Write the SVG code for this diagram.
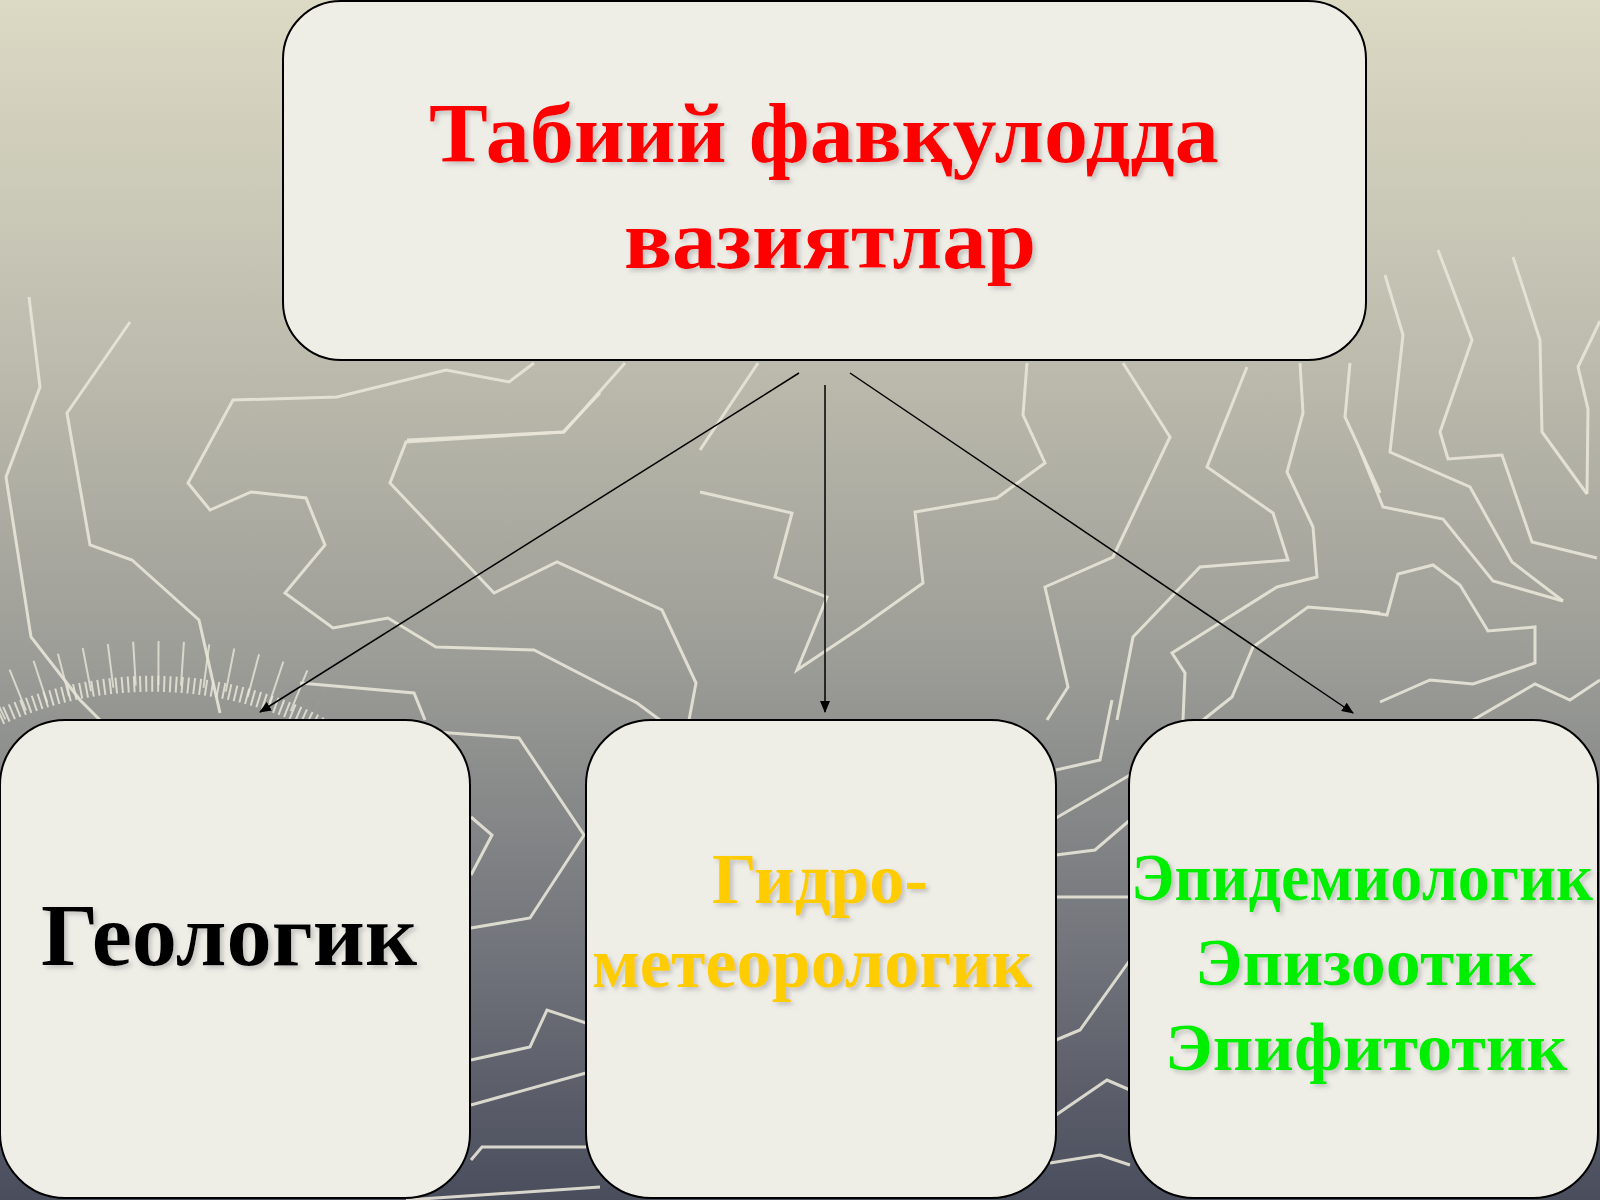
<svg xmlns="http://www.w3.org/2000/svg" width="1600" height="1200" viewBox="0 0 1600 1200">
<defs>
<linearGradient id="bg" x1="0" y1="0" x2="0" y2="1">
<stop offset="0" stop-color="#dcdac4"/>
<stop offset="0.3" stop-color="#bdbbad"/>
<stop offset="0.55" stop-color="#9c9d97"/>
<stop offset="0.8" stop-color="#70737a"/>
<stop offset="1" stop-color="#4a4d5c"/>
</linearGradient>
<marker id="arr" viewBox="0 0 12 10" refX="11" refY="5" markerWidth="12" markerHeight="10" markerUnits="userSpaceOnUse" orient="auto">
<path d="M0,0 L12,5 L0,10 Z" fill="#000"/>
</marker>
<filter id="sh" x="-5%" y="-20%" width="110%" height="140%">
<feDropShadow dx="3" dy="3" stdDeviation="2" flood-color="#999" flood-opacity="0.5"/>
</filter>
</defs>
<style>
.contour{fill:none;stroke:#e8e6d8;stroke-width:3;stroke-linejoin:miter;opacity:0.9}
.box{fill:#eeede6;stroke:#000;stroke-width:2}
.conn{stroke:#000;stroke-width:1.5;fill:none}
.t{font-family:"Liberation Serif","Times New Roman",serif;font-weight:bold;text-anchor:middle}
</style>
<rect x="0" y="0" width="1600" height="1200" fill="url(#bg)"/>
<g id="background-contours">
<polyline class="contour" points="29,297 40,387 6,477 31,637 80,700 120,740"/>
<polyline class="contour" points="130,322 67,413 90,545 132,560 199,620 220,713"/>
<polyline class="contour" points="534,363 509,382 446,370 337,397 233,400 188,483 210,510 251,492 306,498 325,545 285,593 333,628 388,618 436,647 534,650 637,703 660,720"/>
<polyline class="contour" points="600,393 563,432 406,442 390,483 494,593 557,562 662,610 696,683 689,720"/>
<polyline class="contour" points="758,363 700,450"/>
<polyline class="contour" points="625,363 564,432 407,440"/>
<polyline class="contour" points="700,492 792,513 775,577 827,597 797,670 860,628 923,583 915,512 997,498 1045,463 1023,415 1027,363"/>
<polyline class="contour" points="1123,363 1170,437 1113,557 1045,587 1068,687 1047,720"/>
<polyline class="contour" points="1247,367 1207,467 1273,513 1288,560 1200,567 1133,637 1117,720"/>
<polyline class="contour" points="1300,363 1303,413 1287,472 1313,527 1317,577 1277,587 1172,653 1185,673 1183,720"/>
<polyline class="contour" points="1350,363 1345,417 1380,493"/>
<polyline class="contour" points="1380,613 1308,607 1253,647 1232,697 1203,720"/>
<polyline class="contour" points="1385,275 1403,335 1390,452 1470,487 1512,562 1563,601"/>
<polyline class="contour" points="1438,250 1472,340 1440,432 1448,459 1502,455 1532,542 1597,558"/>
<polyline class="contour" points="1513,257 1540,340 1542,432 1587,494"/>
<polyline class="contour" points="1600,321 1578,367 1588,409 1587,494"/>
<polyline class="contour" points="1360,450 1383,507 1443,519 1493,581 1563,601"/>
<polyline class="contour" points="1360,611 1387,615 1398,574 1433,565 1460,585 1488,631 1535,627 1535,663 1473,684 1430,680 1380,702"/>
<polyline class="contour" points="1473,720 1535,684 1570,700 1600,680"/>
<polyline class="contour" points="436,732 519,738 584,835 530,918 471,928"/>
<polyline class="contour" points="471,817 492,835 471,875"/>
<polyline class="contour" points="471,1060 530,1047 547,1010 586,1023"/>
<polyline class="contour" points="471,1105 586,1073"/>
<polyline class="contour" points="471,1160 482,1147 586,1147"/>
<polyline class="contour" points="406,1200 600,1187"/>
<polyline class="contour" points="1056,770 1100,760 1112,700"/>
<polyline class="contour" points="1056,818 1130,775"/>
<polyline class="contour" points="1056,855 1095,850 1130,820"/>
<polyline class="contour" points="1056,897 1066,897 1130,897"/>
<polyline class="contour" points="1056,1040 1080,1030 1130,960"/>
<polyline class="contour" points="1056,1115 1107,1080 1130,1090"/>
<polyline class="contour" points="1050,1163 1100,1155 1130,1165"/>
<polyline class="contour" points="300,683 414,693 425,720"/>
<path d="M 0,717 A 365,365 0 0 1 330,730" fill="none" stroke="#e8e6d8" stroke-width="16" stroke-dasharray="2 4" opacity="0.85"/>
<path d="M -5,700 A 375,375 0 0 1 320,700" fill="none" stroke="#e8e6d8" stroke-width="44" stroke-dasharray="2 22" opacity="0.8"/>
</g>
<g id="connectors">
<line class="conn" x1="799" y1="373" x2="260" y2="712" marker-end="url(#arr)"/>
<line class="conn" x1="825" y1="385" x2="825" y2="712" marker-end="url(#arr)"/>
<line class="conn" x1="850" y1="373" x2="1353" y2="713" marker-end="url(#arr)"/>
</g>
<g id="node-top">
<rect class="box" x="283" y="1" width="1083" height="359" rx="58" ry="58"/>
<text class="t" x="824" y="162" font-size="84" fill="#ff0000" textLength="790" lengthAdjust="spacingAndGlyphs" filter="url(#sh)">Табиий фавқулодда</text>
<text class="t" x="830" y="268" font-size="84" fill="#ff0000" textLength="412" lengthAdjust="spacingAndGlyphs" filter="url(#sh)">вазиятлар</text>
</g>
<g id="node-geologik">
<rect class="box" x="0" y="720" width="470" height="478" rx="65" ry="65"/>
<text class="t" x="229" y="965" font-size="88" fill="#000" textLength="376" lengthAdjust="spacingAndGlyphs" filter="url(#sh)">Геологик</text>
</g>
<g id="node-gidro">
<rect class="box" x="586" y="720" width="470" height="478" rx="65" ry="65"/>
<text class="t" x="820" y="903" font-size="72" fill="#ffcc00" textLength="216" lengthAdjust="spacingAndGlyphs" filter="url(#sh)">Гидро-</text>
<text class="t" x="812" y="987" font-size="72" fill="#ffcc00" textLength="440" lengthAdjust="spacingAndGlyphs" filter="url(#sh)">метеорологик</text>
</g>
<g id="node-epi">
<rect class="box" x="1129" y="720" width="469" height="478" rx="65" ry="65"/>
<text class="t" x="1362" y="900" font-size="68" fill="#00ee00" textLength="462" lengthAdjust="spacingAndGlyphs" filter="url(#sh)">Эпидемиологик</text>
<text class="t" x="1365" y="985" font-size="68" fill="#00ee00" textLength="340" lengthAdjust="spacingAndGlyphs" filter="url(#sh)">Эпизоотик</text>
<text class="t" x="1366" y="1070" font-size="68" fill="#00ee00" textLength="402" lengthAdjust="spacingAndGlyphs" filter="url(#sh)">Эпифитотик</text>
</g>
</svg>
